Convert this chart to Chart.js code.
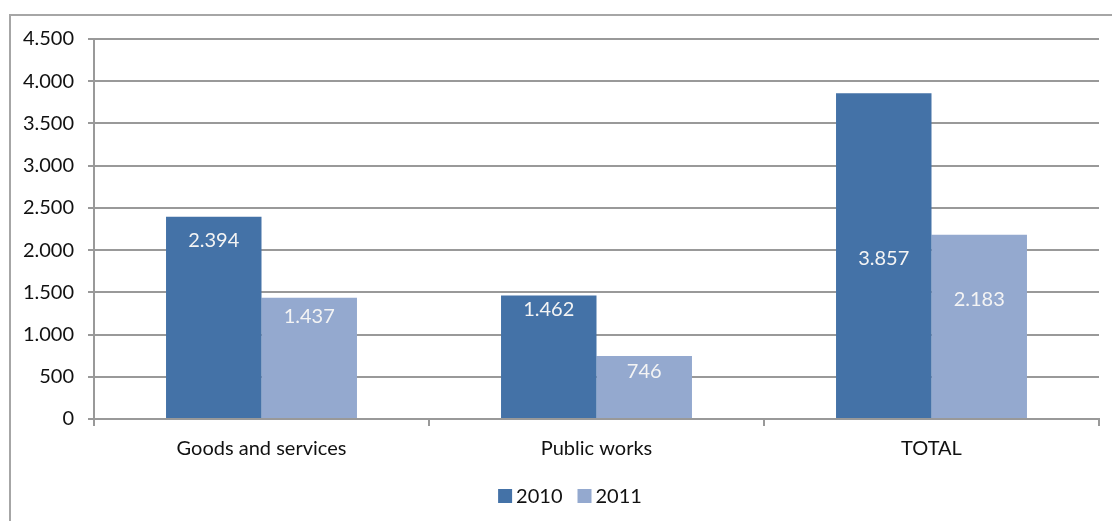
<!DOCTYPE html>
<html>
<head>
<meta charset="utf-8">
<script src="https://cdn.jsdelivr.net/npm/chart.js@4"></script>
<style>
  html, body { margin: 0; padding: 0; background: #fff; overflow: hidden; }
  #frame { position: absolute; left: 9px; top: 14px; width: 1200px; height: 600px; border: 2px solid #a6a6a6; }
  #wrap { position: absolute; left: 0; top: 0; width: 1112px; height: 521px; }
</style>
</head>
<body>
<div id="frame"></div>
<div id="wrap"><canvas id="chart"></canvas></div>
<script>
var categories = ['Goods and services', 'Public works', 'TOTAL'];
var values2010 = [2394, 1462, 3857];
var values2011 = [1437, 746, 2183];
var yTicks = [0, 500, 1000, 1500, 2000, 2500, 3000, 3500, 4000, 4500];

var FONT = 'Lato, "Open Sans", sans-serif';

function fmt(v) {
    return String(v).replace(/\B(?=(\d{3})+(?!\d))/g, '.');
}

// white value labels inside the bars, offset down from each bar's top
var barLabels = {
    id: 'barLabels',
    afterDatasetsDraw: function (chart, args, opts) {
        var ctx = chart.ctx;
        ctx.save();
        ctx.fillStyle = '#f4f4f4';
        ctx.font = '20px ' + FONT;
        ctx.textAlign = 'center';
        ctx.textBaseline = 'middle';
        chart.data.datasets.forEach(function (ds, i) {
            chart.getDatasetMeta(i).data.forEach(function (bar, j) {
                ctx.fillText(fmt(ds.data[j]), bar.x, bar.y + opts.offsets[i][j]);
            });
        });
        ctx.restore();
    }
};

// legend drawn by hand so the box-to-text gap is tight like the original
var boxLegend = {
    id: 'boxLegend',
    afterDraw: function (chart, args, opts) {
        var ctx = chart.ctx;
        ctx.save();
        ctx.font = '20px ' + FONT;
        ctx.textBaseline = 'middle';
        var items = chart.data.datasets.map(function (ds) {
            return { text: ds.label, color: ds.backgroundColor, w: ctx.measureText(ds.label).width };
        });
        var total = 0;
        items.forEach(function (it, k) {
            total += opts.box + opts.gap + it.w + (k < items.length - 1 ? opts.spacing : 0);
        });
        var x = opts.cx - total / 2;
        items.forEach(function (it) {
            ctx.fillStyle = it.color;
            ctx.fillRect(x, opts.cy - opts.box / 2, opts.box, opts.box);
            x += opts.box + opts.gap;
            ctx.fillStyle = '#111';
            ctx.fillText(it.text, x, opts.cy + 1);
            x += it.w + opts.spacing;
        });
        ctx.restore();
    }
};

var ctx = document.getElementById('chart').getContext('2d');
var chart = new Chart(ctx, {
    type: 'bar',
    data: {
        labels: categories,
        datasets: [{
            label: '2010',
            data: values2010,
            backgroundColor: '#4472a7',
            categoryPercentage: 0.57,
            barPercentage: 1
        }, {
            label: '2011',
            data: values2011,
            backgroundColor: '#94a9cf',
            categoryPercentage: 0.57,
            barPercentage: 1
        }]
    },
    plugins: [barLabels, boxLegend],
    options: {
        responsive: true,
        maintainAspectRatio: false,
        animation: false,
        layout: { padding: { left: 10, right: 13, top: 39, bottom: 49 } },
        plugins: {
            tooltip: { enabled: false },
            legend: { display: false },
            barLabels: { offsets: [[23.5, 14.5, 165], [18.5, 15.7, 65]] },
            boxLegend: { cx: 570, cy: 496, box: 14, gap: 4, spacing: 15 }
        },
        scales: {
            x: {
                grid: { drawOnChartArea: false, drawTicks: true, tickLength: 7, color: '#999', lineWidth: 2 },
                border: { color: '#999', width: 2 },
                ticks: { font: { family: FONT, size: 20 }, color: '#111', padding: 11 }
            },
            y: {
                min: 0,
                max: 4500,
                afterFit: function (s) { s.width = 84; },
                afterBuildTicks: function (s) {
                    s.ticks = yTicks.map(function (v) { return { value: v }; });
                },
                grid: { color: '#999', lineWidth: 2, tickLength: 6 },
                border: { color: '#999', width: 2 },
                ticks: {
                    font: { family: FONT, size: 20 },
                    color: '#111',
                    padding: 14,
                    callback: function (v) { return fmt(v); }
                }
            }
        }
    }
});
</script>
</body>
</html>
